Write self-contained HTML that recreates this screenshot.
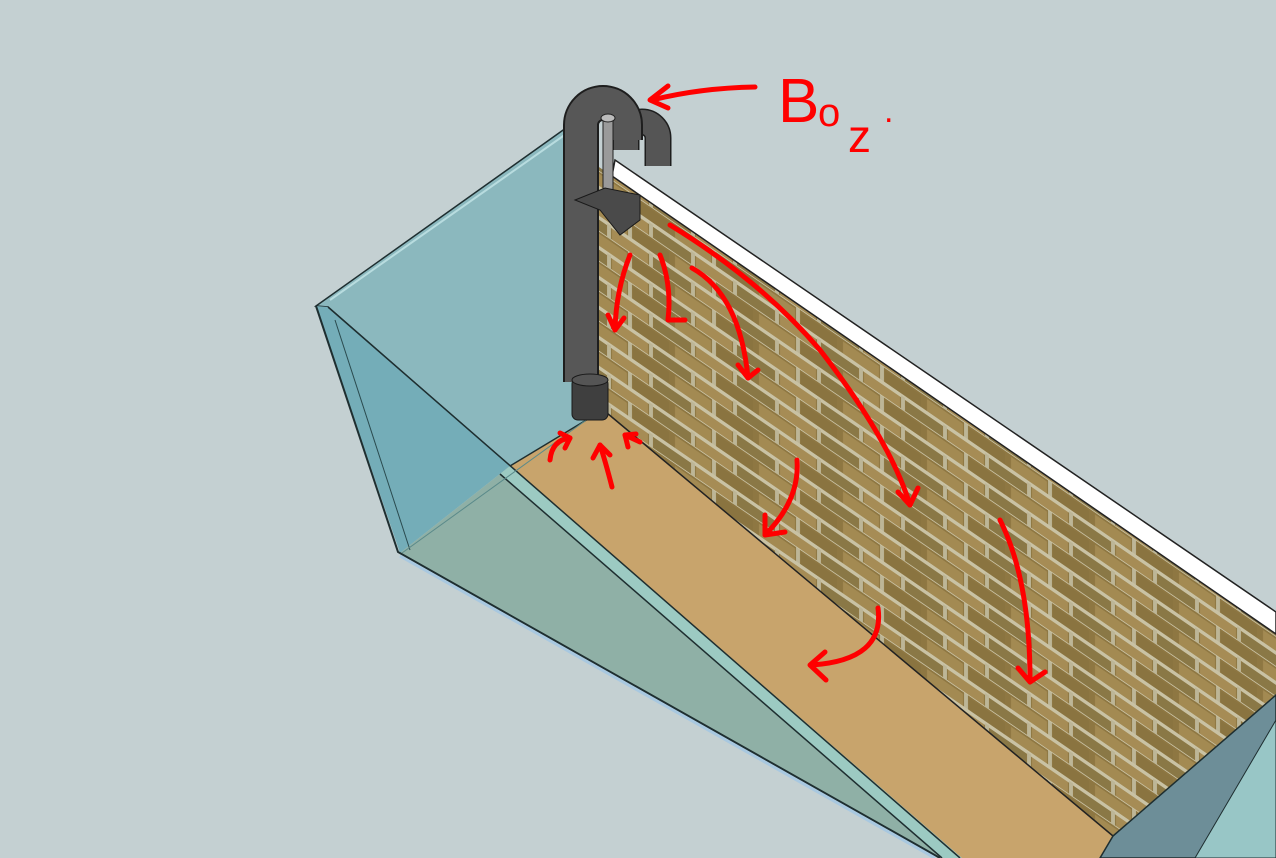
<!DOCTYPE html>
<html><head><meta charset="utf-8"><style>
html,body{margin:0;padding:0;background:#c4d0d2;}
svg{display:block}
</style></head><body>
<svg width="1276" height="858" viewBox="0 0 1276 858" xmlns="http://www.w3.org/2000/svg">
<defs>
<pattern id="brick" width="84" height="30" patternUnits="userSpaceOnUse" patternTransform="skewY(34.5)">
<rect width="84" height="30" fill="#8e7742"/>
<rect x="3" y="2" width="36" height="12" fill="#a38a52"/>
<rect x="45" y="2" width="36" height="12" fill="#8a7440"/>
<rect x="-18" y="18" width="36" height="11" fill="#8a7846"/>
<rect x="24" y="18" width="36" height="11" fill="#a68c55"/>
<rect x="66" y="18" width="36" height="11" fill="#8a7846"/>
<rect y="14" width="84" height="4" fill="#c9c2a4"/>
<rect y="29" width="84" height="1.5" fill="#c9c2a4"/>
<rect x="40" y="0" width="4" height="14" fill="#bdb697"/>
<rect x="19" y="16" width="4" height="14" fill="#bdb697"/>
<rect x="61" y="16" width="4" height="14" fill="#bdb697"/>
</pattern>
</defs>
<polygon points="596,165 1276,630 1276,700 1113,836 607,413 598,413" fill="url(#brick)"/>
<polygon points="615,160 1276,612 1276,634 612,176" fill="#ffffff" stroke="#222" stroke-width="1.5"/>
<polygon points="596,413 607,413 1113,836 1105,858 945,858 510,466" fill="#c8a46c"/>
<line x1="607" y1="413" x2="1113" y2="836" stroke="#222" stroke-width="1.5"/>
<polygon points="316,306 566,128 598,140 598,413 510,466 328,307" fill="#8bb8be" stroke="#1e2e30" stroke-width="1.5"/>
<line x1="330" y1="300" x2="566" y2="134" stroke="#b8dcdf" stroke-width="2"/>
<polygon points="316,306 328,307 510,466 400,553" fill="#74adb8"/>
<polygon points="510,466 960,858 940,858 398,552 400,553" fill="#8fb0a6"/>
<polygon points="510,466 962,858 942,858 500,474" fill="#9ccac2"/>
<line x1="500" y1="474" x2="942" y2="858" stroke="#1e2e30" stroke-width="1.5"/>
<polyline points="316,306 398,552 940,858" fill="none" stroke="#1e2e30" stroke-width="2"/>
<line x1="328" y1="307" x2="960" y2="858" stroke="#1e2e30" stroke-width="1.5"/>
<line x1="335" y1="320" x2="410" y2="550" stroke="#2a4a4e" stroke-width="1"/>
<line x1="596" y1="413" x2="402" y2="553" stroke="#5a8a8a" stroke-width="1"/>
<line x1="400" y1="556" x2="935" y2="858" stroke="#a8c8e0" stroke-width="3"/>
<polygon points="1113,836 1276,695 1276,858 1100,858" fill="#6d8e98" stroke="#1e2e30" stroke-width="1.5"/>
<polygon points="1276,720 1276,858 1195,858" fill="#98c6c6" stroke="#1e2e30" stroke-width="1"/>
<path d="M626,150 L626,138 A16,16 0 0 1 658,138 L658,166" fill="none" stroke="#1e1e1e" stroke-width="27"/>
<path d="M626,150 L626,138 A16,16 0 0 1 658,138 L658,166" fill="none" stroke="#555" stroke-width="24"/>
<path d="M581,382 L581,125 A22,22 0 0 1 625,125 L625,140" fill="none" stroke="#1e1e1e" stroke-width="36"/>
<path d="M581,382 L581,125 A22,22 0 0 1 625,125 L625,140" fill="none" stroke="#575757" stroke-width="32"/>
<rect x="603" y="118" width="10" height="80" fill="#9a9a9a" stroke="#222"/>
<ellipse cx="608" cy="118" rx="7" ry="4" fill="#bbb" stroke="#222"/>
<polygon points="575,200 605,188 640,195 640,220 620,235 600,210" fill="#4a4a4a" stroke="#1a1a1a"/>
<rect x="572" y="378" width="36" height="42" rx="6" fill="#3f3f3f" stroke="#1a1a1a"/>
<ellipse cx="590" cy="380" rx="18" ry="6" fill="#555" stroke="#1a1a1a"/>
<g fill="none" stroke="#ff0000" stroke-width="5" stroke-linecap="round" stroke-linejoin="round">
<path d="M755,87 Q700,88 652,100"/><path d="M668,86 L650,100 L668,108"/>
<path d="M630,255 Q616,290 615,330"/><path d="M608,315 L615,330 L624,318"/>
<path d="M660,255 Q672,285 668,320 L685,320"/>
<path d="M692,268 Q740,295 748,378"/><path d="M738,365 L748,378 L758,370"/>
<path d="M670,225 Q760,280 820,350 Q890,440 910,505"/><path d="M898,492 L910,505 L918,488"/>
<path d="M797,460 Q800,500 765,535"/><path d="M765,515 L765,535 L785,532"/>
<path d="M878,608 Q885,660 812,665"/><path d="M825,652 L810,665 L826,680"/>
<path d="M1000,520 Q1030,580 1030,680"/><path d="M1018,668 L1030,682 L1045,672"/>
<path d="M550,460 Q552,440 570,438"/><path d="M560,433 L570,438 L565,448"/>
<path d="M612,487 Q605,460 600,445"/><path d="M593,458 L600,445 L610,455"/>
<path d="M640,442 L625,435"/><path d="M628,447 L625,435 L636,434"/>
</g>
<text x="778" y="122" font-family="Liberation Sans, sans-serif" font-size="62" fill="#ff0000">B</text>
<text x="818" y="126" font-family="Liberation Sans, sans-serif" font-size="40" fill="#ff0000">o</text>
<text x="848" y="152" font-family="Liberation Sans, sans-serif" font-size="46" fill="#ff0000">z</text>
<text x="884" y="122" font-family="Liberation Sans, sans-serif" font-size="34" fill="#ff0000">.</text>
</svg>
</body></html>
